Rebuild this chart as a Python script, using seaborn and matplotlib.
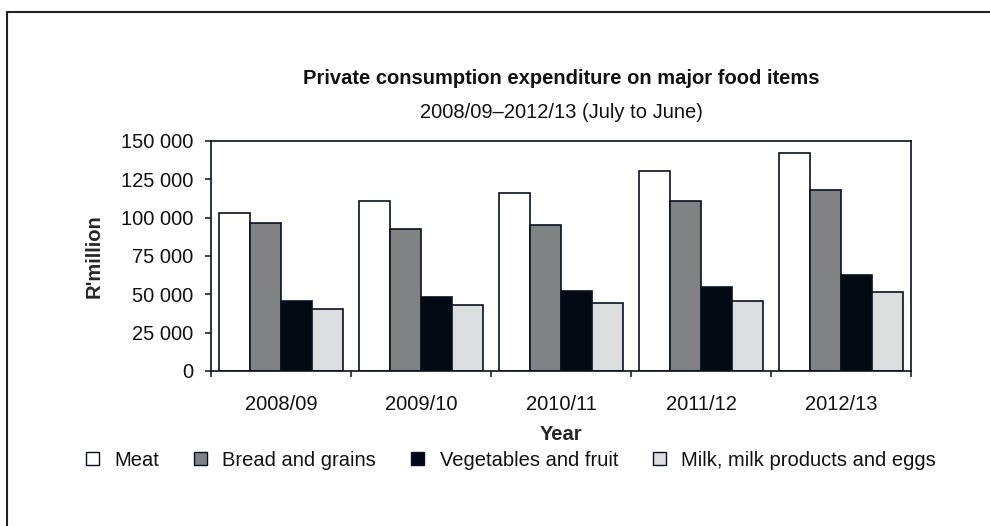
import pandas as pd
import matplotlib.pyplot as plt
import seaborn as sns
from matplotlib.patches import Patch
from matplotlib.ticker import FuncFormatter, FixedLocator
from matplotlib.lines import Line2D

years = ['2008/09', '2009/10', '2010/11', '2011/12', '2012/13']
items = ['Meat', 'Bread and grains', 'Vegetables and fruit', 'Milk, milk products and eggs']
meat = [103000, 110600, 115900, 130200, 141900]
bread = [96500, 92400, 95200, 110600, 118300]
veg = [45700, 48500, 52400, 55000, 62600]
milk = [40400, 42800, 44100, 45700, 51700]

cols = {
    'Meat': '#ffffff',
    'Bread and grains': '#808285',
    'Vegetables and fruit': '#020817',
    'Milk, milk products and eggs': '#dcdddf',
}
edge = '#0a1020'
fs = 14.5

data = pd.DataFrame({'Year': years * 4,
                     'Item': [i for i in items for _ in years],
                     'Value': meat + bread + veg + milk})

sns.set_style('white')
plt.rcParams['font.family'] = ['Liberation Sans', 'DejaVu Sans']
plt.rcParams['text.color'] = '#111111'

fig = plt.figure(figsize=(9.9, 5.26), dpi=100)
ax = fig.add_axes([211 / 990, 1 - 371 / 526, 700 / 990, 230 / 526])

sns.barplot(data=data, x='Year', y='Value', hue='Item', hue_order=items, palette=cols,
            width=0.886, gap=0, edgecolor=edge, linewidth=1.2, ax=ax, legend=False)

ax.set_ylim(0, 150000)
ax.set_xlim(-0.5, 4.5)
ax.set_yticks(range(0, 150001, 25000))
ax.yaxis.set_major_formatter(FuncFormatter(lambda v, p: '{:,.0f}'.format(v).replace(',', ' ')))
ax.tick_params(axis='y', length=4.5, width=1.1, color=edge, labelsize=fs, left=True, pad=8,
               labelcolor='#111111')
ax.tick_params(axis='x', which='major', length=0, labelsize=fs, pad=17, labelcolor='#111111')
ax.xaxis.set_minor_locator(FixedLocator([-0.5, 0.5, 1.5, 2.5, 3.5, 4.5]))
ax.tick_params(axis='x', which='minor', length=4.5, width=1.1, color=edge, bottom=True)
for s in ax.spines.values():
    s.set_color(edge)
    s.set_linewidth(1.2)
    s.set_visible(True)

ax.set_xlabel('Year', fontsize=fs, fontweight='bold', va='center')
ax.xaxis.set_label_coords(0.5, (371 - 435) / 230)
ax.set_ylabel("R'million", fontsize=fs, fontweight='bold', va='center')
ax.yaxis.set_label_coords((94 - 211) / 700, 0.5)

fig.text(561 / 990, 1 - 79 / 526, 'Private consumption expenditure on major food items',
         ha='center', va='center', fontsize=fs, fontweight='bold')
fig.text(561 / 990, 1 - 112 / 526, '2008/09\u20132012/13 (July to June)',
         ha='center', va='center', fontsize=fs)

handles = [Patch(facecolor=cols[i], edgecolor=edge, linewidth=1.0, label=i) for i in items]
fig.legend(handles=handles, loc='center', bbox_to_anchor=(511 / 990, 1 - 460 / 526), ncol=4,
           frameon=False, fontsize=fs, handlelength=0.65, handleheight=0.65,
           handletextpad=0.75, columnspacing=1.75)

# outer frame (top and left edges)
fig.add_artist(Line2D([7 / 990, 7 / 990], [0, 1 - 12 / 526], color='#222222', lw=1.5))
fig.add_artist(Line2D([7 / 990, 1], [1 - 12 / 526, 1 - 12 / 526], color='#222222', lw=1.5))

plt.savefig('out.png', dpi=100)
